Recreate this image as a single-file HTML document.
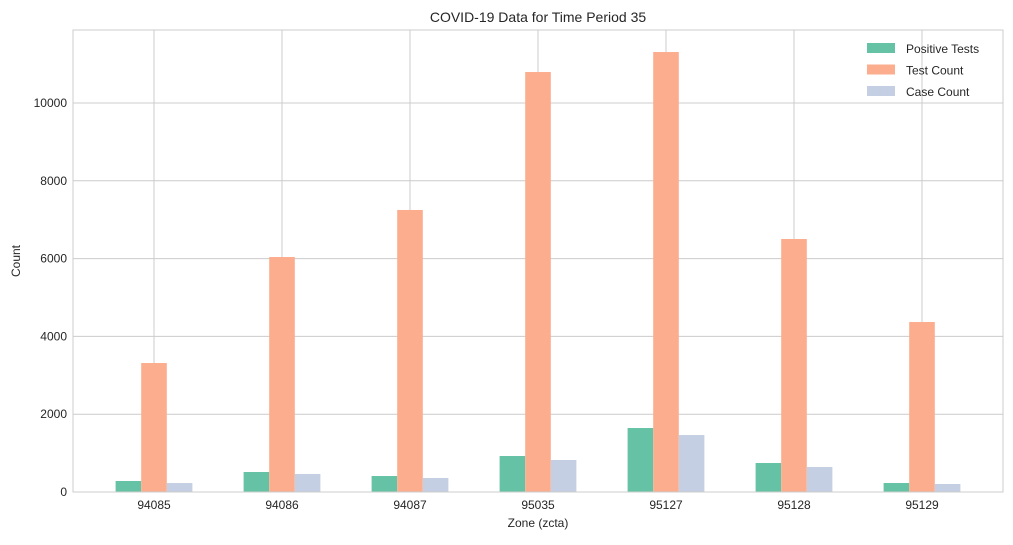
<!DOCTYPE html>
<html><head><meta charset="utf-8"><style>
body{margin:0;background:#fff;font-family:"Liberation Sans",sans-serif;}
svg text{font-family:"Liberation Sans",sans-serif;fill:#262626;}
</style></head><body>
<svg id="chart" width="1013" height="540" xmlns="http://www.w3.org/2000/svg">
<rect width="1013" height="540" fill="#fff"/>
<g id="grid"></g><g id="bars"></g><g id="axes"></g>
<text x="538" y="22" text-anchor="middle" font-size="14">COVID-19 Data for Time Period 35</text>
<text x="538" y="527" text-anchor="middle" font-size="12">Zone (zcta)</text>
<text x="20" y="261" text-anchor="middle" font-size="12" transform="rotate(-90 20 261)">Count</text>
<g id="legend"></g>
</svg>
<script>
const categories=["94085","94086","94087","95035","95127","95128","95129"];
const positiveTests=[283,514,411,925,1645,745,231];
const testCount=[3316,6041,7250,10797,11311,6504,4370];
const caseCount=[231,463,360,823,1465,643,206];
const yTicks=[0,2000,4000,6000,8000,10000];
const seriesNames=["Positive Tests","Test Count","Case Count"];
const colors=["#66c2a5","#fcad8e","#c5cfe3"];
const L=73,R=1003,T=30,B=492,YMAX=11877;
const ns="http://www.w3.org/2000/svg";
const step=128;
const first=154;
const x=i=>first+step*i;
const y=v=>B-(B-T)*v/YMAX;
function el(tag,attrs,parent){const e=document.createElementNS(ns,tag);for(const k in attrs)e.setAttribute(k,attrs[k]);parent.appendChild(e);return e;}
const grid=document.getElementById('grid'),bars=document.getElementById('bars'),axes=document.getElementById('axes'),legend=document.getElementById('legend');
yTicks.forEach(t=>{
  const g=el('line',{x1:L,x2:R,y1:y(t),y2:y(t),stroke:"#cccccc","stroke-width":1},grid);
  
  
  const tx=el('text',{x:L-6,y:y(t)+4,"text-anchor":"end","font-size":12},axes);
  tx.textContent=t;
  
  
});
categories.forEach((c,i)=>{
  const g=el('line',{x1:x(i),x2:x(i),y1:T,y2:B,stroke:"#cccccc","stroke-width":1},grid);
  
  
  const tx=el('text',{x:x(i),y:B+17,"text-anchor":"middle","font-size":12},axes);
  tx.textContent=c;
  
  
});
const bw=step*0.2;
[positiveTests,testCount,caseCount].forEach((s,si)=>{
  s.forEach((v,i)=>{
    const r=el('rect',{x:x(i)+(si-1.5)*bw,y:y(v),width:bw,height:B-y(v),fill:colors[si]},bars);
    
    
  });
});
const frame=el('rect',{x:L,y:T,width:R-L,height:B-T,fill:"none",stroke:"#cccccc","stroke-width":1},axes);


seriesNames.forEach((n,i)=>{
  const ly=53+i*21.5;
  const r=el('rect',{x:867,y:ly-10,width:28,height:10,fill:colors[i]},legend);
  
  
  const t=el('text',{x:906,y:ly,"font-size":12},legend);
  t.textContent=n;
  
  
});
</script>
</body></html>
